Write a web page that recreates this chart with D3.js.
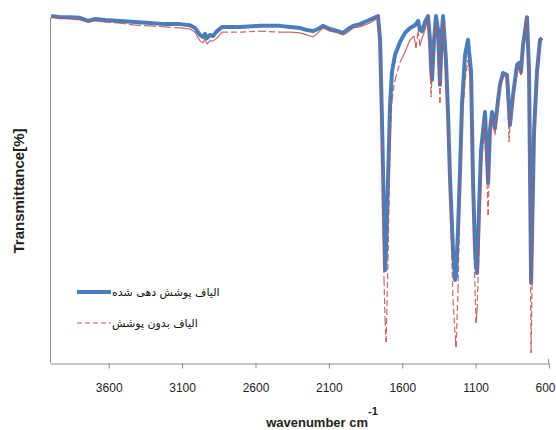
<!DOCTYPE html>
<html lang="fa">
<head>
    <meta charset="UTF-8">
    <title>FTIR</title>
    <script src="https://cdn.jsdelivr.net/npm/d3@7"></script>
    <style>
        body { margin: 0; background: #fff; }
        text { font-family: "Liberation Sans", Arial, sans-serif; }
    </style>
</head>
<body>
    <script>
        var width = 556, height = 430;
        var margin = { left: 50, right: 7, top: 14, bottom: 67 };

        // wavenumber (cm-1) of every sample
        var wavenumber = [3993, 3932, 3864, 3796, 3741, 3693, 3625, 3523, 3421, 3319, 3216, 3114, 3046, 3012,
            2978, 2957, 2944, 2930, 2910, 2889, 2862, 2828, 2705, 2569, 2433, 2365, 2297, 2249, 2208, 2174,
            2140, 2092, 2038, 2004, 1969, 1935, 1888, 1840, 1806, 1765, 1751, 1738, 1724, 1717, 1710, 1697,
            1683, 1670, 1649, 1615, 1581, 1547, 1520, 1506, 1492, 1479, 1465, 1445, 1424, 1411, 1404, 1397,
            1383, 1370, 1356, 1343, 1329, 1322, 1302, 1288, 1274, 1254, 1240, 1233, 1220, 1206, 1193, 1172,
            1152, 1131, 1118, 1104, 1097, 1090, 1077, 1063, 1036, 1015, 1002, 988, 968, 947, 934, 913, 886,
            872, 866, 845, 818, 804, 791, 777, 750, 736, 722, 702, 682, 661, 647];

        // transmittance [%] - coated fibres
        var coated = [99.4, 99.1, 99.1, 98.9, 98.0, 98.6, 98.3, 98.0, 97.7, 97.4, 97.1, 97.1, 96.8, 96.0,
            94.0, 93.4, 94.3, 93.1, 94.0, 93.7, 95.1, 96.3, 96.3, 96.6, 96.6, 96.3, 96.0, 95.4, 95.1, 95.7,
            96.6, 95.7, 95.1, 94.6, 95.7, 96.6, 97.1, 98.0, 98.6, 99.4, 92.6, 69.6, 41.0, 26.6, 32.4, 52.4,
            73.9, 83.4, 88.3, 92.0, 94.6, 96.0, 96.6, 97.1, 98.0, 95.4, 95.1, 97.7, 99.4, 92.6, 85.4, 81.1,
            92.6, 99.4, 95.4, 79.7, 95.4, 99.4, 86.8, 71.6, 52.4, 32.4, 23.8, 25.2, 38.1, 55.3, 73.9, 88.3,
            92.6, 83.4, 52.4, 32.4, 28.1, 25.8, 43.8, 61.0, 71.9, 51.6, 66.8, 71.9, 67.3, 75.4, 79.7, 83.1, 82.5,
            72.5, 68.2, 76.8, 85.4, 86.0, 83.4, 91.1, 99.1, 83.4, 22.9, 66.2, 83.4, 92.6, 93.1];

        // transmittance [%] - uncoated fibres
        var uncoated = [99.1, 98.9, 98.6, 98.3, 97.7, 98.0, 97.7, 97.4, 96.8, 96.6, 96.3, 96.0, 95.7, 94.8,
            92.3, 91.7, 92.9, 91.4, 92.3, 92.3, 93.1, 94.8, 94.8, 95.1, 94.8, 94.8, 94.6, 94.0, 93.4, 94.6,
            96.0, 95.1, 94.6, 94.0, 94.8, 96.0, 96.3, 97.1, 97.7, 99.1, 91.1, 61.0, 23.8, 12.3, 6.0, 29.5,
            63.9, 75.4, 81.1, 86.2, 89.1, 92.6, 93.7, 90.3, 95.4, 90.8, 93.1, 95.4, 98.9, 86.8, 76.2, 82.5,
            93.4, 96.8, 91.7, 74.5, 92.6, 98.3, 84.0, 66.8, 46.7, 18.1, 8.0, 4.6, 20.9, 49.6, 68.2, 81.1,
            86.8, 79.7, 46.7, 20.9, 11.5, 15.2, 32.4, 55.3, 69.6, 42.4, 63.9, 70.2, 65.3, 73.9, 78.8, 82.5, 81.7,
            63.3, 68.2, 75.4, 84.5, 85.1, 82.5, 90.3, 99.1, 81.1, 2.9, 62.5, 81.1, 92.0, 93.1];

        var xTicks = [3600, 3100, 2600, 2100, 1600, 1100, 600];
        var legendNames = ["الیاف پوشش دهی شده", "الیاف بدون پوشش"];

        var svg = d3.select("body").append("svg").attr("width", width).attr("height", height);

        var x = d3.scaleLinear().domain([4000, 600]).range([margin.left, width - margin.right]);
        var y = d3.scaleLinear().domain([0, 100]).range([height - margin.bottom, margin.top]);

        // axes
        svg.append("line")
            .attr("x1", margin.left + 0.5).attr("x2", margin.left + 0.5)
            .attr("y1", y(99)).attr("y2", y(0))
            .attr("stroke", "#8c8c8c");

        var xAxis = d3.axisBottom(x).tickValues(xTicks).tickFormat(d3.format("d")).tickSize(5).tickSizeOuter(0);
        var gx = svg.append("g")
            .attr("transform", "translate(0," + (y(0) + 0.5) + ")")
            .call(xAxis);
        gx.select(".domain").attr("stroke", "#8c8c8c");
        gx.selectAll(".tick line").attr("stroke", "#8c8c8c");
        gx.selectAll(".tick text")
            .attr("y", 20)
            .attr("fill", "#222")
            .style("font-size", "12px")
            .style("font-family", "'Liberation Sans', Arial, sans-serif");
        // last label sits at the window edge, nudge it in
        gx.selectAll(".tick text").filter(function (d) { return d === 600; }).attr("x", -4);
        // small upward mark at the right end of the axis
        svg.append("line")
            .attr("x1", x(600) - 0.5).attr("x2", x(600) - 0.5)
            .attr("y1", y(0) - 4).attr("y2", y(0))
            .attr("stroke", "#8c8c8c");

        var pts = wavenumber.map(function (w, i) { return { w: w, a: coated[i], b: uncoated[i] }; });

        var lineA = d3.line().x(function (d) { return x(d.w); }).y(function (d) { return y(d.a); });

        svg.append("path")
            .datum(pts)
            .attr("fill", "none")
            .attr("stroke", "#4a7ebb")
            .attr("stroke-width", 4)
            .attr("stroke-linejoin", "round")
            .attr("d", lineA);

        // uncoated: dashes restart on every segment, so short ones look solid
        var segs = d3.pairs(pts);
        svg.append("g").selectAll("line")
            .data(segs)
            .enter()
            .append("line")
            .attr("x1", function (s) { return x(s[0].w); })
            .attr("y1", function (s) { return y(s[0].b); })
            .attr("x2", function (s) { return x(s[1].w); })
            .attr("y2", function (s) { return y(s[1].b); })
            .attr("stroke", "#c0504d")
            .attr("stroke-opacity", 0.85)
            .attr("stroke-width", 1.2)
            .attr("stroke-dasharray", function (s) {
                var dx = x(s[1].w) - x(s[0].w), dy = y(s[1].b) - y(s[0].b);
                return Math.sqrt(dx * dx + dy * dy) > 14 ? "6,3" : null;
            });

        // legend
        var lg = svg.append("g");
        lg.append("line").attr("x1", 77).attr("x2", 111).attr("y1", 292).attr("y2", 292)
            .attr("stroke", "#4a7ebb").attr("stroke-width", 4);
        lg.append("line").attr("x1", 77).attr("x2", 111).attr("y1", 323).attr("y2", 323)
            .attr("stroke", "#c0504d").attr("stroke-width", 1.2).attr("stroke-dasharray", "5,3");
        lg.selectAll("text")
            .data(legendNames)
            .enter()
            .append("text")
            .attr("x", 112)
            .attr("y", function (d, i) { return 296 + i * 31; })
            .style("font-family", "'DejaVu Sans', sans-serif")
            .style("font-size", "11px")
            .attr("fill", "#111")
            .text(function (d) { return d; });

        // titles
        svg.append("text")
            .attr("transform", "translate(24,191) rotate(-90)")
            .attr("text-anchor", "middle")
            .style("font-size", "15px")
            .style("font-weight", "bold")
            .attr("fill", "#222")
            .text("Transmittance[%]");

        var xt = svg.append("text")
            .attr("x", 322)
            .attr("y", 427)
            .attr("text-anchor", "middle")
            .style("font-size", "13px")
            .style("font-weight", "bold")
            .attr("fill", "#222");
        xt.append("tspan").text("wavenumber cm");
        xt.append("tspan").attr("dy", -12).style("font-size", "11px").text("-1");
    </script>
</body>
</html>
